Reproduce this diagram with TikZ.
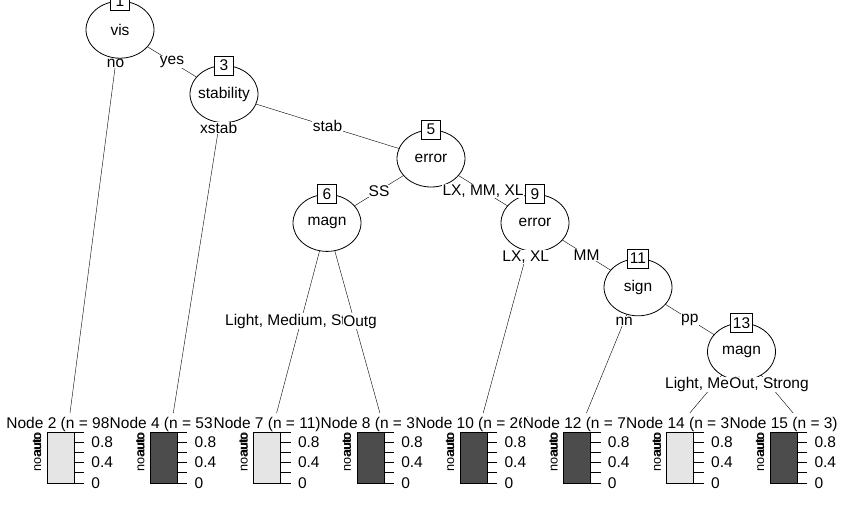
\documentclass[tikz,border=0pt]{standalone}
\usepackage{fontspec}
\setmainfont{Liberation Sans}
\usetikzlibrary{shapes.geometric}
\pgfdeclarelayer{background}
\pgfsetlayers{background,main}
\definecolor{lightbar}{gray}{0.9}
\definecolor{darkbar}{gray}{0.3}

\begin{document}
\begin{tikzpicture}[x=1pt, y=-1pt, line width=0.8pt,
    every node/.style={font=\fontsize{15.5pt}{18pt}\selectfont},
    split/.style={draw, ellipse, fill=white, minimum width=68pt, minimum height=57pt, inner xsep=-20pt, inner ysep=0pt},
    idbox/.style={draw, fill=white, minimum width=19pt, minimum height=19pt, inner sep=2.5pt},
    edgelab/.style={fill=white, inner sep=0.5pt},
    header/.style={fill=white, inner sep=0.5pt, anchor=base},
    ticklab/.style={anchor=west, inner sep=0pt},
    classlab/.style={rotate=90, inner sep=0pt, font=\fontsize{12.7pt}{15pt}\selectfont}]
    \useasboundingbox (0,0) rectangle (852,512);
    \clip (0,0) rectangle (852,512);

    % Terminal panels
    \foreach \k/\id/\n/\col in {0/2/98/lightbar, 1/4/53/darkbar, 2/7/11/lightbar, 3/8/3/darkbar,
                                4/10/26/darkbar, 5/12/7/darkbar, 6/14/3/lightbar, 7/15/3/darkbar} {
        \pgfmathsetmacro{\bx}{47+103.3*\k}
        \coordinate (t\id) at (\bx+23,413);
        \node[header] (h\id) at (\bx+13.5,428.5) {Node \id\ (n = \n)};
        \draw[fill=\col] (\bx,432) rectangle (\bx+27,483);
        \foreach \v in {0,...,5}
            \draw (\bx+27,483-10.2*\v) -- (\bx+37,483-10.2*\v);
        \node[ticklab] (z\id) at (\bx+44,483) {0};
        \node[ticklab] (m\id) at (\bx+44,462.6) {0.4};
        \node[ticklab] (u\id) at (\bx+44,442.2) {0.8};
        \node[classlab] (no\id) at (\bx-10,452.5) {noauto};
        \node[classlab] (au\id) at (\bx-10,444.5) {auto};
    }

    % Inner nodes
    \node[split] (n1) at (120,29.7) {vis};
    \node[split] (n3) at (224,94.1) {stability};
    \node[split] (n5) at (431,158.5) {error};
    \node[split] (n6) at (327,222.9) {magn};
    \node[split] (n9) at (535,222.9) {error};
    \node[split] (n11) at (638,287.3) {sign};
    \node[split] (n13) at (741.5,351.7) {magn};

    % Edges
    \begin{pgfonlayer}{background}
        \draw (n1.center) -- (t2);
        \draw (n1.center) -- (n3.center);
        \draw (n3.center) -- (t4);
        \draw (n3.center) -- (n5.center);
        \draw (n5.center) -- (n6.center);
        \draw (n5.center) -- (n9.center);
        \draw (n6.center) -- (t7);
        \draw (n6.center) -- (t8);
        \draw (n9.center) -- (t10);
        \draw (n9.center) -- (n11.center);
        \draw (n11.center) -- (t12);
        \draw (n11.center) -- (n13.center);
        \draw (n13.center) -- (t14);
        \draw (n13.center) -- (t15);
    \end{pgfonlayer}

    % Edge labels
    \path (n1.center) -- node[edgelab, pos=0.088] (e2) {no} (t2);
    \path (n1.center) -- node[edgelab, pos=0.5] (e3) {yes} (n3.center);
    \path (n3.center) -- node[edgelab, pos=0.106] (e4) {xstab} (t4);
    \path (n3.center) -- node[edgelab, pos=0.5] (e5) {stab} (n5.center);
    \path (n5.center) -- node[edgelab, pos=0.5] (e6) {SS} (n6.center);
    \path (n5.center) -- node[edgelab, pos=0.5] (e9) {LX, MM, XL} (n9.center);
    \path (n6.center) -- node[edgelab, pos=0.516] (e7) {Light, Medium, Strong} (t7);
    \path (n6.center) -- node[edgelab, pos=0.516, xshift=1.5pt] (e8) {Out} (t8);
    \path (n9.center) -- node[edgelab, pos=0.179] (e10) {LX, XL} (t10);
    \path (n9.center) -- node[edgelab, pos=0.5] (e11) {MM} (n11.center);
    \path (n11.center) -- node[edgelab, pos=0.268] (e12) {nn} (t12);
    \path (n11.center) -- node[edgelab, pos=0.5] (e13) {pp} (n13.center);
    \path (n13.center) -- node[edgelab, pos=0.535] (e14) {Light, Medium} (t14);
    \path (n13.center) -- node[edgelab, pos=0.535] (e15) {Out, Strong} (t15);

    % Node ids
    \node[idbox] (b1) at (n1.north) {1};
    \node[idbox] (b3) at (n3.north) {3};
    \node[idbox] (b5) at (n5.north) {5};
    \node[idbox] (b6) at (n6.north) {6};
    \node[idbox] (b9) at (n9.north) {9};
    \node[idbox] (b11) at (n11.north) {11};
    \node[idbox] (b13) at (n13.north) {13};
\end{tikzpicture}
\end{document}
